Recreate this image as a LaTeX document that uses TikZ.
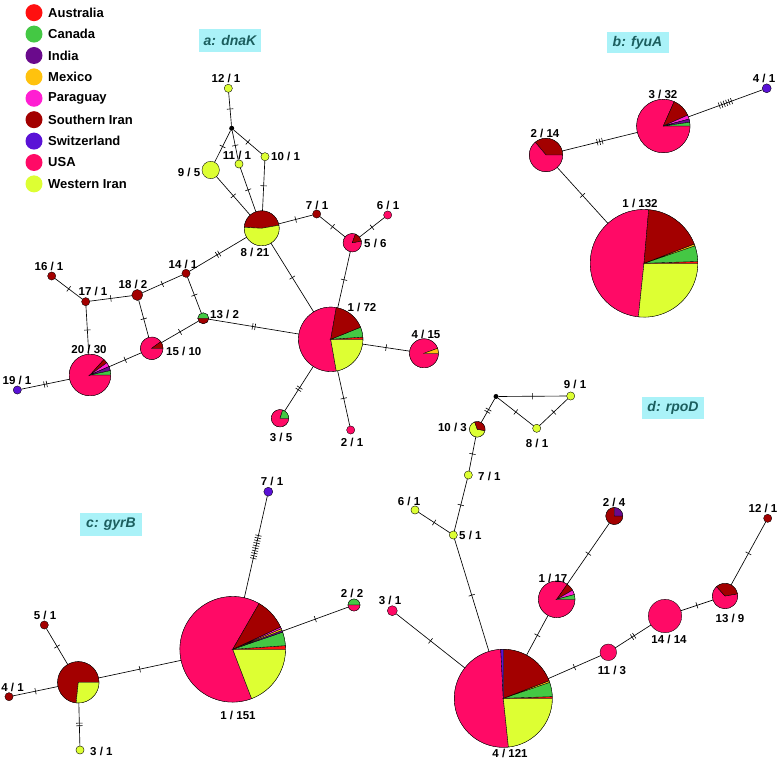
\documentclass[tikz,border=0pt]{standalone}
\usepackage{fontspec}
\setmainfont{Liberation Sans}

\definecolor{aus}{HTML}{FF1010}
\definecolor{can}{HTML}{44C844}
\definecolor{ind}{HTML}{6A0A8C}
\definecolor{mex}{HTML}{FFC20E}
\definecolor{par}{HTML}{FF1ED2}
\definecolor{siran}{HTML}{A30000}
\definecolor{swi}{HTML}{5A12D6}
\definecolor{usa}{HTML}{FF0A66}
\definecolor{wiran}{HTML}{DDFF33}
\definecolor{titlebg}{HTML}{AAF2F8}
\definecolor{titlefg}{HTML}{1B5E5E}

% mutation ticks and pie slices
\newcommand\mut[1]{\foreach \k in {1,...,#1}{\rule[-3.2pt]{0.6pt}{6.4pt}\ifnum\k<#1\hspace{2pt}\fi}}
\newcommand\pie[3]{\foreach \a/\b/\c in {#3}{%
  \filldraw[fill=\c, draw=black, line width=0.35pt] (#1.center) -- ++(\a:#2pt) arc[start angle=\a, end angle=\b, radius=#2pt] -- cycle;}}

\begin{document}
\begin{tikzpicture}[x=1pt, y=-1pt,
  hap/.style={circle, draw=black, line width=0.35pt, inner sep=0pt, outer sep=0pt},
  rad/.style={minimum size={2*#1pt}},
  sm/.style={hap, rad=4.1},
  dot/.style={circle, fill=black, inner sep=0pt, minimum size=5pt},
  lbl/.style={font=\fontsize{11.5}{13}\selectfont\bfseries, inner sep=0pt},
  ttl/.style={fill=titlebg, text=titlefg, font=\fontsize{14}{16}\selectfont\bfseries\itshape, inner sep=0pt, minimum width=62, minimum height=23},
  key/.style={circle, inner sep=0pt, minimum size=17pt},
  keytxt/.style={anchor=west, inner sep=0pt, font=\fontsize{13}{15}\selectfont\bfseries},
  link/.style={line width=0.65pt},
  tk/.style={midway, sloped, inner sep=0pt}
]
\useasboundingbox (0,0) rectangle (777,759);

% legend
\foreach \nm/\cl [count=\i] in {Australia/aus, Canada/can, India/ind, Mexico/mex, Paraguay/par,
  Southern Iran/siran, Switzerland/swi, USA/usa, Western Iran/wiran}{
  \node[key, fill=\cl] (k\i) at (34, {12.7+21.4*(\i-1)}) {};
  \node[keytxt] (kt\i) at (48, {12.7+21.4*(\i-1)}) {\nm};
}

% titles
\node[ttl] (ta) at (230,40.5) {a: dnaK};
\node[ttl, minimum height=21] (tb) at (637.5,42.5) {b: fyuA};
\node[ttl] (tc) at (111,524.5) {c: gyrB};
\node[ttl, minimum height=22] (td) at (673,408) {d: rpoD};

% a: dnaK
\node[sm, fill=wiran] (a12) at (228.3,88.3) {};
\node[dot] (aj) at (231.7,128.3) {};
\node[sm, fill=wiran] (a11) at (239,164) {};
\node[sm, fill=wiran] (a10) at (265,156.7) {};
\node[hap, rad=8.7, fill=wiran] (a9) at (210.7,170) {};
\node[hap, rad=17.5] (a8) at (261.7,228.3) {};
\node[sm, fill=siran] (a7) at (316.7,214) {};
\node[sm, fill=usa] (a6) at (387.7,215) {};
\node[hap, rad=9.2] (a5) at (352.3,242.7) {};
\node[sm, fill=siran] (a14) at (186,273.3) {};
\node[sm, fill=siran] (a16) at (51.7,276) {};
\node[sm, fill=siran] (a17) at (85.7,301.7) {};
\node[hap, rad=5.5, fill=siran] (a18) at (137.3,295) {};
\node[hap, rad=5.5] (a13) at (203.3,318.3) {};
\node[hap, rad=11.3] (a15) at (151.7,348.3) {};
\node[hap, rad=20.8] (a20) at (90,375) {};
\node[sm, fill=swi] (a19) at (17.3,390) {};
\node[hap, rad=32.2] (a1) at (330.7,339.3) {};
\node[hap, rad=14.5] (a4) at (424,353.3) {};
\node[hap, rad=8.7] (a3) at (280,418.3) {};
\node[sm, fill=usa] (a2) at (350.7,430) {};

\pie{a1}{32.2}{80/280/usa, 280/360/wiran, 0/4/aus, 4/22/can, 22/80/siran}
\pie{a4}{14.5}{20/360/usa, 0/20/mex}
\pie{a3}{8.7}{72/360/usa, 0/72/can}
\pie{a5}{9.2}{70/370/usa, 10/70/siran}
\pie{a8}{17.5}{10/177/siran, 177/370/wiran}
\pie{a13}{5.5}{0/180/can, 180/360/siran}
\pie{a15}{11.3}{36/360/usa, 0/36/siran}
\pie{a20}{20.8}{48/360/usa, 36/48/siran, 24/36/par, 12/24/ind, 0/12/can}

\node[lbl] (a12l) at (226,78) {12 / 1};
\node[lbl] (a11l) at (237,155.5) {11 / 1};
\node[lbl, anchor=west] (a10l) at (271,156.5) {10 / 1};
\node[lbl] (a9l) at (189,172) {9 / 5};
\node[lbl] (a8l) at (255,252) {8 / 21};
\node[lbl] (a7l) at (317,205) {7 / 1};
\node[lbl] (a6l) at (388,205) {6 / 1};
\node[lbl, anchor=west] (a5l) at (364,243) {5 / 6};
\node[lbl] (a14l) at (183,264) {14 / 1};
\node[lbl] (a16l) at (49,266.7) {16 / 1};
\node[lbl] (a17l) at (93,291.5) {17 / 1};
\node[lbl] (a18l) at (133,284) {18 / 2};
\node[lbl, anchor=west] (a13l) at (210,314) {13 / 2};
\node[lbl, anchor=west] (a15l) at (166,351) {15 / 10};
\node[lbl] (a20l) at (89,349) {20 / 30};
\node[lbl] (a19l) at (17,380) {19 / 1};
\node[lbl] (a1l) at (362,307) {1 / 72};
\node[lbl] (a4l) at (426,334) {4 / 15};
\node[lbl] (a3l) at (281,437) {3 / 5};
\node[lbl] (a2l) at (352,442) {2 / 1};

% b: fyuA
\node[hap, rad=4.5, fill=swi] (b4) at (766.7,88.3) {};
\node[hap, rad=26.7] (b3) at (663.3,126) {};
\node[hap, rad=16.7] (b2) at (546,155) {};
\node[hap, rad=53.8] (b1) at (644,263.3) {};

\pie{b3}{26.7}{66/360/usa, 24/66/siran, 15/24/par, 8/15/ind, 0/8/can}
\pie{b2}{16.7}{0/130/siran, 130/360/usa}
\pie{b1}{53.8}{85/264/usa, 264/360/wiran, 0/2/aus, 2/19/can, 19/21/mex, 21/85/siran}

\node[lbl] (b4l) at (764,78) {4 / 1};
\node[lbl] (b3l) at (663,94) {3 / 32};
\node[lbl] (b2l) at (545,133) {2 / 14};
\node[lbl] (b1l) at (640,203) {1 / 132};

% c: gyrB
\node[hap, rad=4.5, fill=swi] (c7) at (268.3,491.7) {};
\node[hap, rad=52.8] (c1) at (232.7,649.3) {};
\node[hap, rad=6] (c2) at (354,605) {};
\node[hap, rad=20.7] (c6) at (78.3,682.3) {};
\node[sm, fill=siran] (c5) at (44.3,625) {};
\node[sm, fill=siran] (c4) at (9,696.7) {};
\node[sm, fill=wiran] (c3) at (80,750) {};

\pie{c1}{52.8}{60/291/usa, 291/360/wiran, 0/4/aus, 4/19/can, 19/21/ind, 21/23/mex, 23/25/par, 25/60/siran}
\pie{c6}{20.7}{0/264/siran, 264/360/wiran}
\pie{c2}{6}{0/180/can, 180/360/usa}

\node[lbl] (c7l) at (272,481) {7 / 1};
\node[lbl] (c1l) at (238,715) {1 / 151};
\node[lbl] (c2l) at (352,593) {2 / 2};
\node[lbl] (c5l) at (45,615) {5 / 1};
\node[lbl] (c4l) at (12.5,687) {4 / 1};
\node[lbl, anchor=west] (c3l) at (90,751.5) {3 / 1};

% d: rpoD
\node[dot] (dj) at (496,396.5) {};
\node[sm, fill=wiran] (d9) at (570.7,396) {};
\node[sm, fill=wiran] (d8) at (536.7,428.3) {};
\node[hap, rad=7.8] (d10) at (477.3,429.3) {};
\node[sm, fill=wiran] (d7) at (468.3,475) {};
\node[sm, fill=wiran] (d6) at (415,510) {};
\node[sm, fill=wiran] (d5) at (453.3,535) {};
\node[hap, rad=49] (d4) at (503.3,698.3) {};
\node[hap, rad=5, fill=usa] (d3) at (392.3,610.7) {};
\node[hap, rad=18.3] (d1) at (556.7,599.3) {};
\node[hap, rad=8.5] (d2) at (614.3,516) {};
\node[hap, rad=8.3, fill=usa] (d11) at (608.3,652.3) {};
\node[hap, rad=16.7, fill=usa] (d14) at (665,616) {};
\node[hap, rad=12.7] (d13) at (725,596) {};
\node[sm, fill=siran] (d12) at (767.7,518.3) {};

\pie{d4}{49}{93/276/usa, 276/360/wiran, 0/2/aus, 2/19/can, 19/21/mex, 21/90/siran, 90/93/swi}
\pie{d1}{18.3}{55/360/usa, 30/55/siran, 15/30/par, 0/15/can}
\pie{d2}{8.5}{90/360/siran, 0/90/ind}
\pie{d10}{7.8}{110/350/wiran, -10/110/siran}
\pie{d13}{12.7}{132/370/usa, 10/132/siran}

\node[lbl] (d9l) at (575,384) {9 / 1};
\node[lbl] (d8l) at (537,443) {8 / 1};
\node[lbl, anchor=east] (d10l) at (467,427.5) {10 / 3};
\node[lbl, anchor=west] (d7l) at (478,476.5) {7 / 1};
\node[lbl] (d6l) at (409,501) {6 / 1};
\node[lbl, anchor=west] (d5l) at (459,535.5) {5 / 1};
\node[lbl] (d4l) at (510,753) {4 / 121};
\node[lbl] (d3l) at (390,600) {3 / 1};
\node[lbl] (d1l) at (553,578) {1 / 17};
\node[lbl] (d2l) at (614,502) {2 / 4};
\node[lbl] (d11l) at (612,670) {11 / 3};
\node[lbl] (d14l) at (669,639) {14 / 14};
\node[lbl] (d13l) at (730,618) {13 / 9};
\node[lbl] (d12l) at (763,508) {12 / 1};

% connectors with mutation ticks
\foreach \u/\v/\n in {a12/aj/1, aj/a9/1, aj/a11/1, aj/a10/1, a9/a8/1, a11/a8/1, a10/a8/1,
  a8/a7/1, a7/a5/1, a6/a5/1, a8/a14/2, a8/a1/1, a5/a1/1, a16/a17/1, a17/a18/1, a17/a20/1,
  a18/a14/1, a18/a15/1, a14/a13/1, a13/a15/1, a15/a20/1, a19/a20/2, a13/a1/2, a1/a4/1,
  a1/a3/2, a1/a2/1,
  b2/b3/3, b3/b4/6, b2/b1/1,
  c6/c1/1, c1/c7/10, c1/c2/1, c6/c5/1, c6/c4/1, c6/c3/2,
  dj/d9/1, dj/d8/1, d8/d9/1, dj/d10/2, d10/d7/1, d7/d5/1, d6/d5/1, d5/d4/1, d3/d4/1,
  d4/d1/1, d1/d2/1, d4/d11/1, d11/d14/2, d14/d13/1, d13/d12/1}
  \draw[link] (\u) -- (\v) node[tk] {\mut{\n}};
\end{tikzpicture}
\end{document}
